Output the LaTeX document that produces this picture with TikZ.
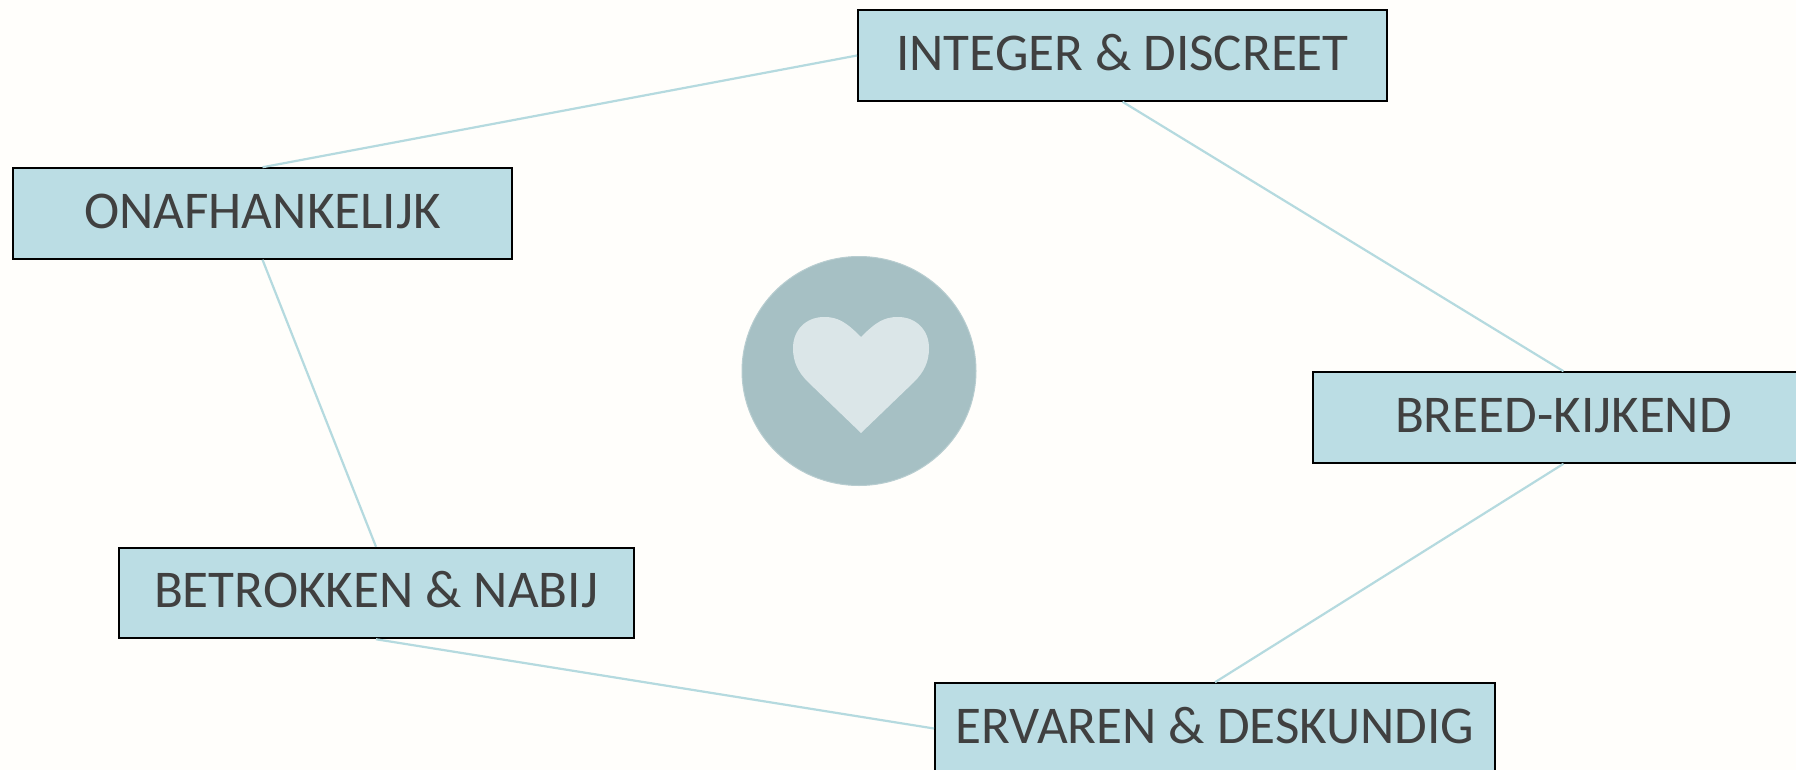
\documentclass[tikz,border=0pt]{standalone}
\usepackage{fontspec}
\usetikzlibrary{shapes.geometric}
\setmainfont{Carlito}
\definecolor{paper}{HTML}{FFFEFB}
\definecolor{boxfill}{HTML}{BBDDE4}
\definecolor{linkcol}{HTML}{B5DADF}
\definecolor{labelcol}{HTML}{404040}
\definecolor{circlecol}{HTML}{A6C0C4}
\definecolor{heartcol}{HTML}{DBE6E8}
\tikzset{
    quality/.style={draw=black,line width=2pt,fill=boxfill,text=labelcol,
        font=\fontsize{53.1}{60}\selectfont,inner sep=0pt,minimum height=90.5pt,
        text height=40pt,text depth=10.5pt},
    link/.style={draw=linkcol,line width=2.2pt},
}
\begin{document}
\begin{tikzpicture}[x=1pt,y=-1pt]
    \useasboundingbox (0,0) rectangle (1796,770);
    \clip (0,0) rectangle (1796,770);
    \fill[paper] (0,0) rectangle (1796,770);
    \node[ellipse,fill=circlecol,draw=circlecol!80!white,line width=1pt,inner sep=0pt,minimum width=234pt,minimum height=229pt] (hub) at (859,371) {};
    \fill[heartcol] (861,433) -- (808,382)
        .. controls (798,372) and (793,362) .. (793,348)
        .. controls (793,330) and (806,317) .. (824,317)
        .. controls (838,317) and (846,322) .. (861,337)
        .. controls (876,322) and (884,317) .. (898,317)
        .. controls (916,317) and (929,330) .. (929,348)
        .. controls (929,362) and (924,372) .. (914,382) -- cycle;
    \node[quality,minimum width=529pt] (integer) at (1122.5,55.5) {INTEGER \& DISCREET};
    \node[quality,minimum width=499pt] (onafh) at (262.5,213.5) {ONAFHANKELIJK};
    \node[quality,minimum width=501pt] (breed) at (1563.5,417.5) {BREED-KIJKEND};
    \node[quality,minimum width=515pt] (betrok) at (376,593) {BETROKKEN \& NABIJ};
    \node[quality,minimum width=560pt] (ervaren) at (1215,728.5) {ERVAREN \& DESKUNDIG};
    \draw[link] (integer.west) -- (onafh.north);
    \draw[link] (integer.south) -- (breed.north);
    \draw[link] (onafh.south) -- (betrok.north);
    \draw[link] (breed.south) -- (ervaren.north);
    \draw[link] (betrok.south) -- (ervaren.west);
\end{tikzpicture}
\end{document}
